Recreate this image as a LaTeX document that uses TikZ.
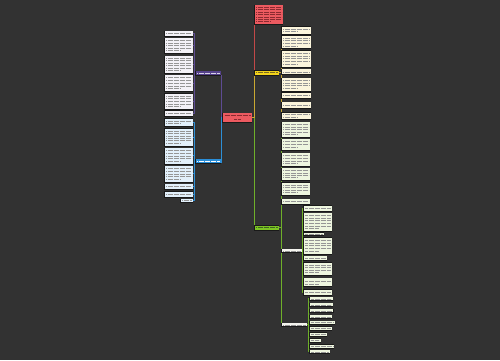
\documentclass[tikz,border=0pt]{standalone}
\usetikzlibrary{calc}
\definecolor{bgc}{HTML}{323232}
\definecolor{rootc}{HTML}{EC5A60}
\definecolor{roott}{HTML}{8A2A30}
\definecolor{purc}{HTML}{56428C}
\definecolor{bluc}{HTML}{2A8ED8}
\definecolor{yelc}{HTML}{F2D21B}
\definecolor{grnc}{HTML}{7CC424}
\definecolor{pl}{HTML}{5E4B93}
\definecolor{bl}{HTML}{2D8FD6}
\definecolor{yl}{HTML}{C9A832}
\definecolor{gl}{HTML}{6FB02A}
\definecolor{rl}{HTML}{C24848}
\definecolor{pf}{HTML}{F3F1F7}
\definecolor{bf}{HTML}{E2F0FB}
\definecolor{yf}{HTML}{FBF5DC}
\definecolor{gf}{HTML}{EEF6DF}
\definecolor{sf}{HTML}{F4F4EE}
\definecolor{tg}{HTML}{959595}
\definecolor{tw}{HTML}{D8D2E8}
\definecolor{tdy}{HTML}{7A6A20}
\definecolor{tdg}{HTML}{3F6420}
\pgfdeclarelayer{back}
\pgfdeclarelayer{conn}
\pgfsetlayers{back,conn,main}
\tikzset{
  bx/.style={fill=#1, draw=none, inner sep=0pt, outer sep=0pt, anchor=north west},
  conn/.style={line width=0.9pt, draw=#1, line join=round},
  tl/.style={line width=0.5pt, draw=#1, dash pattern=on 0.9pt off 0.3pt}
}
% name, x1, y1, x2, y2, fill, text colour
\newcommand\tb[7]{%
  \fill[black!90] (#2-0.7,#3-0.4) rectangle (#4+0.3,#5+1.0);
  \node[bx=#6, minimum width={(#4-#2)*1pt}, minimum height={(#5-#3)*1pt}] (#1) at (#2,#3) {};
  \pgfmathtruncatemacro\nl{max(1,floor((#5-#3-1.4)/2.5))}%
  \foreach \i in {1,...,\nl}{%
    \pgfmathsetmacro\yy{#3+1.1+(\i-0.5)*((#5-#3-2.2)/\nl)}%
    \pgfmathsetmacro\xe{ifthenelse(and(\i==\nl,\nl>1), #2+0.55*(#4-#2), #4-1.4)}%
    \draw[tl=#7] (#2+1.4,\yy) -- (\xe,\yy);
  }%
}
\begin{document}
\begin{tikzpicture}[x=1pt,y=-1pt]
\begin{pgfonlayer}{back}
\fill[bgc] (0,0) rectangle (500,360);
\end{pgfonlayer}
\useasboundingbox (0,0) rectangle (500,360);

% root
\fill[black!90] (222.3,112.6) rectangle (252.3,123);
\node[bx=rootc, minimum width=29pt, minimum height=9pt] (R) at (223,113) {};
\draw[tl=roott] (224.5,115.6) -- (250.5,115.6);
\draw[tl=roott] (234,119.4) -- (241,119.4);

% main branches
\tb{TOP}{255}{5}{283}{24}{rootc}{roott}
\tb{PN}{196}{71}{221}{75}{purc}{tw}
\tb{BN}{196}{159}{221}{163}{bluc}{white}
\tb{YN}{255}{70.5}{279}{74.5}{yelc}{tdy}
\tb{GN}{255}{225.5}{279}{229.5}{grnc}{tdg}

% purple children
\tb{P1}{165}{31}{193}{36}{pf}{tg}
\tb{P2}{165}{38}{193}{53}{pf}{tg}
\tb{P3}{165}{56}{193}{72.5}{pf}{tg}
\tb{P4}{165}{75}{193}{91}{pf}{tg}
\tb{P5}{165}{93.5}{193}{109}{pf}{tg}
\tb{P6}{165}{110.7}{193}{115.7}{pf}{tg}

% blue children
\tb{B1}{165}{118.5}{193}{125.5}{bf}{tg}
\tb{B2}{165}{128.5}{193}{145.5}{bf}{tg}
\tb{B3}{165}{148}{193}{163.5}{bf}{tg}
\tb{B4}{165}{166}{193}{181.5}{bf}{tg}
\tb{B5}{165}{184}{193}{189}{bf}{tg}
\tb{B6}{165}{191.5}{193}{196.5}{bf}{tg}
\tb{B7}{181}{199}{193}{202}{bf}{tg}

% yellow children
\tb{Y1}{282}{26.5}{310.5}{33.5}{yf}{tg}
\tb{Y2}{282}{35.7}{310.5}{48.2}{yf}{tg}
\tb{Y3}{282}{50.5}{310.5}{66.7}{yf}{tg}
\tb{Y4}{282}{69.3}{310.5}{74.3}{yf}{tg}
\tb{Y5}{282}{78}{310.5}{90.7}{yf}{tg}
\tb{Y6}{282}{92.7}{310.5}{97.7}{yf}{tg}
\tb{Y7}{282}{102}{310.5}{108}{yf}{tg}
\tb{Y8}{282}{112.5}{310.5}{119}{yf}{tg}

% green children
\tb{G1}{282}{122}{310}{136.7}{gf}{tg}
\tb{G2}{282}{139}{310}{150}{gf}{tg}
\tb{G3}{282}{153.3}{310}{165.7}{gf}{tg}
\tb{G4}{282}{168.3}{310}{180}{gf}{tg}
\tb{G5}{282}{182.7}{310}{195}{gf}{tg}
\tb{G6}{282}{199}{310}{203.5}{gf}{tg}
\tb{G7}{282}{249.3}{302}{252.3}{sf}{tg}
\tb{G8}{282}{323.3}{307}{326.3}{sf}{tg}

% G7 children
\tb{C1}{303.5}{205.7}{332}{210.5}{gf}{tg}
\tb{C2}{303.5}{213}{332}{231}{gf}{tg}
\tb{C3}{303.5}{232.6}{324}{235.4}{gf}{tg}
\tb{C4}{303.5}{237.5}{332}{253.7}{gf}{tg}
\tb{C5}{303.5}{256}{327}{260}{gf}{tg}
\tb{C6}{303.5}{262.7}{332}{275}{gf}{tg}
\tb{C7}{303.5}{278.3}{332}{286.3}{gf}{tg}
\tb{C8}{303.5}{289.5}{332}{294.5}{gf}{tg}

% G8 children
\tb{D1}{309.5}{297.3}{332.7}{300.4}{gf}{tg}
\tb{D2}{309.5}{303.3}{332.7}{306.4}{gf}{tg}
\tb{D3}{309.5}{309.3}{333.3}{312.4}{gf}{tg}
\tb{D4}{309.5}{315.3}{331.7}{318.4}{gf}{tg}
\tb{D5}{309.5}{320.9}{335}{324}{gf}{tg}
\tb{D6}{309.5}{326.7}{331.7}{329.8}{gf}{tg}
\tb{D7}{309.5}{332.7}{327}{335.8}{gf}{tg}
\tb{D8}{309.5}{338.7}{320.7}{341.8}{gf}{tg}
\tb{D9}{309.5}{344.7}{334}{347.8}{gf}{tg}
\tb{D10}{309.5}{350.3}{330}{353.4}{gf}{tg}

\begin{pgfonlayer}{conn}
% root to branches
\draw[conn=pl] (PN.south east) -- (PN.south east |- R.west) -- (R.west);
\draw[conn=bl] (BN.south east) -- (BN.south east |- R.west) -- (R.west);
\draw[conn=gl] (R.east) -| ([xshift=-1pt]GN.south west) -- (GN.south west);
\draw[conn=rl] (R.east) -| ([xshift=-1pt]TOP.south west) -- (TOP.south west);
\draw[conn=yl] (R.east) -| ([xshift=-1pt]YN.south west) -- (YN.south west);
% purple
\foreach \c in {P1,P2,P3,P4,P5,P6}
  \draw[conn=pl] (PN.west) -| ([xshift=1pt]\c.east) -- (\c.east);
% blue
\foreach \c in {B1,B2,B3,B4,B5,B6,B7}
  \draw[conn=bl] (BN.west) -| ([xshift=1pt]\c.east) -- (\c.east);
% yellow
\foreach \c in {Y1,Y2,Y3,Y4,Y5,Y6,Y7,Y8}
  \draw[conn=yl] (YN.east) -| ([xshift=-1pt]\c.west) -- (\c.west);
% green
\foreach \c in {G1,G2,G3,G4,G5,G6,G7,G8}
  \draw[conn=gl] (GN.east) -| ([xshift=-1pt]\c.west) -- (\c.west);
\foreach \c in {C1,C2,C3,C4,C5,C6,C7,C8}
  \draw[conn=gl] (G7.east) -| ([xshift=-0.8pt]\c.west) -- (\c.west);
\foreach \c in {D1,D2,D3,D4,D5,D6,D7,D8,D9,D10}
  \draw[conn=gl] (G8.east) -| ([xshift=-1pt]\c.west) -- (\c.west);
\end{pgfonlayer}
\end{tikzpicture}
\end{document}
